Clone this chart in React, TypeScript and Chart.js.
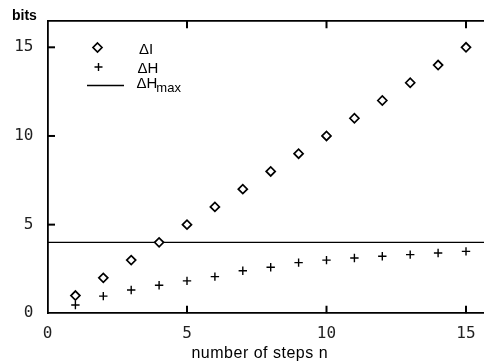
import React, { useEffect, useRef } from "react";
import { Chart, registerables } from "chart.js";

Chart.register(...registerables);

// ---- data ----
const STEPS = [1, 2, 3, 4, 5, 6, 7, 8, 9, 10, 11, 12, 13, 14, 15];
const DELTA_I = [1, 2, 3, 4, 5, 6, 7, 8, 9, 10, 11, 12, 13, 14, 15];
const DELTA_H = [0.47, 0.97, 1.31, 1.58, 1.83, 2.07, 2.4, 2.6, 2.86, 3.0, 3.12, 3.22, 3.31, 3.4, 3.49];
const DELTA_H_MAX = 4;
const X_TICKS = [0, 5, 10, 15];
const Y_TICKS = [0, 5, 10, 15];
const X_RANGE = [0, 15.645];
const Y_RANGE = [0, 16.5];
const X_TITLE = "number of steps n";
const Y_TITLE = "bits";
const LEGEND_LABELS = ["ΔI", "ΔH", "ΔH", "max"];

const TICK_FONT = { family: "'DejaVu Sans Mono', monospace", size: 16 };
const TEXT_FONT = "'Liberation Sans', Arial, sans-serif";

const decorPlugin = {
  id: "decor",
  afterDraw(chart: any) {
    const { ctx, chartArea } = chart;
    const xs = chart.scales.x;
    const ys = chart.scales.y;
    ctx.save();
    ctx.strokeStyle = "#000";
    ctx.lineWidth = 2;
    // inward tick marks
    const tl = 7.5;
    X_TICKS.forEach((v) => {
      if (v === X_RANGE[0]) return;
      const px = xs.getPixelForValue(v);
      ctx.beginPath();
      ctx.moveTo(px, chartArea.bottom);
      ctx.lineTo(px, chartArea.bottom - tl);
      ctx.moveTo(px, chartArea.top);
      ctx.lineTo(px, chartArea.top + tl);
      ctx.stroke();
    });
    Y_TICKS.forEach((v) => {
      if (v === Y_RANGE[0]) return;
      const py = ys.getPixelForValue(v);
      ctx.beginPath();
      ctx.moveTo(chartArea.left, py);
      ctx.lineTo(chartArea.left + tl, py);
      ctx.stroke();
    });

    // axis titles
    ctx.fillStyle = "#000";
    ctx.textBaseline = "middle";
    ctx.font = `bold 14px ${TEXT_FONT}`;
    ctx.textAlign = "left";
    ctx.fillText(Y_TITLE, 12, 16);

    ctx.font = `16px ${TEXT_FONT}`;
    ctx.textAlign = "center";
    (ctx as any).letterSpacing = "0.5px";
    const cx = (xs.getPixelForValue(X_TICKS[0]) + xs.getPixelForValue(X_TICKS[X_TICKS.length - 1])) / 2 + 3;
    ctx.fillText(X_TITLE, cx, 354);
    (ctx as any).letterSpacing = "0px";

    // legend
    const dx = 97.5;
    ctx.lineWidth = 1.7;
    ctx.beginPath();
    ctx.moveTo(dx, 47.5 - 4.5);
    ctx.lineTo(dx + 4.5, 47.5);
    ctx.lineTo(dx, 47.5 + 4.5);
    ctx.lineTo(dx - 4.5, 47.5);
    ctx.closePath();
    ctx.fillStyle = "#fff";
    ctx.fill();
    ctx.stroke();
    ctx.lineWidth = 1.4;
    ctx.beginPath();
    ctx.moveTo(98.5 - 4, 67);
    ctx.lineTo(98.5 + 4, 67);
    ctx.moveTo(98.5, 67 - 4);
    ctx.lineTo(98.5, 67 + 4);
    ctx.stroke();
    ctx.lineWidth = 1.3;
    ctx.beginPath();
    ctx.moveTo(87, 85.5);
    ctx.lineTo(124, 85.5);
    ctx.stroke();

    ctx.fillStyle = "#000";
    ctx.textAlign = "left";
    ctx.textBaseline = "alphabetic";
    ctx.font = `15px ${TEXT_FONT}`;
    ctx.fillText(LEGEND_LABELS[0], 139, 53.5);
    ctx.fillText(LEGEND_LABELS[1], 137.5, 73);
    ctx.fillText(LEGEND_LABELS[2], 136.5, 88);
    const w = ctx.measureText(LEGEND_LABELS[2]).width;
    ctx.font = `13px ${TEXT_FONT}`;
    ctx.fillText(LEGEND_LABELS[3], 136.5 + w - 1, 91.5);
    ctx.restore();
  },
};

export default function App() {
  const ref = useRef<HTMLCanvasElement | null>(null);
  useEffect(() => {
    document.body.style.margin = "0";
    document.body.style.overflow = "hidden";
    if (!ref.current) return;
    const chart = new Chart(ref.current, {
      type: "scatter",
      data: {
        datasets: [
          {
            label: "ΔI",
            data: STEPS.map((n, i) => ({ x: n, y: DELTA_I[i] })),
            pointStyle: "rectRot",
            pointRadius: 4.5,
            pointBackgroundColor: "#fff",
            pointBorderColor: "#000",
            pointBorderWidth: 1.7,
            showLine: false,
          },
          {
            label: "ΔH",
            data: STEPS.map((n, i) => ({ x: n, y: DELTA_H[i] })),
            pointStyle: "cross",
            pointRadius: 4.2,
            pointBorderColor: "#000",
            pointBorderWidth: 1.4,
            showLine: false,
          },
          {
            label: "ΔHmax",
            type: "line",
            data: [
              { x: X_RANGE[0], y: DELTA_H_MAX },
              { x: X_RANGE[1], y: DELTA_H_MAX },
            ],
            borderColor: "#000",
            borderWidth: 1.3,
            pointRadius: 0,
            showLine: true,
          } as any,
        ],
      },
      options: {
        responsive: false,
        animation: false,
        layout: { padding: 0, autoPadding: false } as any,
        plugins: {
          legend: { display: false },
          tooltip: { enabled: false },
          title: { display: false },
        },
        scales: {
          x: {
            type: "linear",
            position: "bottom",
            min: X_RANGE[0],
            max: X_RANGE[1],
            afterBuildTicks: (s: any) => {
              s.ticks = X_TICKS.map((v) => ({ value: v }));
            },
            afterFit: (s: any) => {
              s.height = 48.7;
              s.paddingLeft = 0;
              s.paddingRight = 0;
            },
            ticks: { font: TICK_FONT, color: "#222", padding: 11, maxRotation: 0, autoSkip: false },
            grid: { display: true, drawOnChartArea: false, drawTicks: false },
            border: { display: true, color: "#000", width: 1.8 },
          },
          x2: {
            type: "linear",
            position: "top",
            min: X_RANGE[0],
            max: X_RANGE[1],
            afterFit: (s: any) => {
              s.height = 20.7;
              s.paddingLeft = 0;
              s.paddingRight = 0;
            },
            ticks: { display: false },
            grid: { display: true, drawOnChartArea: false, drawTicks: false },
            border: { display: true, color: "#000", width: 1.8 },
          },
          y: {
            type: "linear",
            position: "left",
            min: Y_RANGE[0],
            max: Y_RANGE[1],
            afterBuildTicks: (s: any) => {
              s.ticks = Y_TICKS.map((v) => ({ value: v }));
            },
            afterFit: (s: any) => {
              s.width = 47.5;
              s.paddingTop = 0;
              s.paddingBottom = 0;
            },
            ticks: { font: TICK_FONT, color: "#222", padding: 14 },
            grid: { display: true, drawOnChartArea: false, drawTicks: false },
            border: { display: true, color: "#000", width: 1.8 },
          },
        },
      },
      plugins: [decorPlugin],
    });
    return () => chart.destroy();
  }, []);
  return (
    <div style={{ width: 484, height: 362 }}>
      <canvas ref={ref} width={484} height={362} style={{ display: "block" }} />
    </div>
  );
}
